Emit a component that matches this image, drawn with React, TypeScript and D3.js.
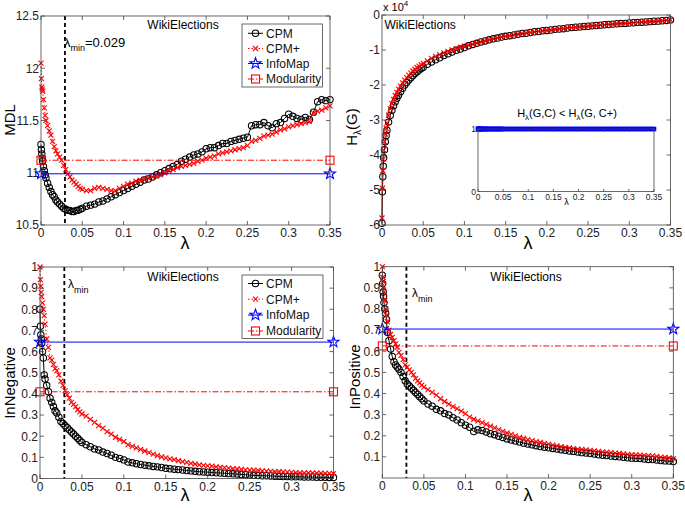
import React from "react";
import * as d3 from "d3";

// ---------- data ----------
const lambda = [0, 0.0005, 0.001, 0.0015, 0.002, 0.003, 0.004, 0.005, 0.006, 0.008, 0.01, 0.012, 0.014, 0.016, 0.018, 0.02, 0.0225, 0.025, 0.0275, 0.03, 0.0325, 0.035, 0.0375, 0.04, 0.0425, 0.045, 0.0475, 0.05,
  0.055, 0.06, 0.065, 0.07, 0.075, 0.08, 0.085, 0.09, 0.095, 0.1,
  0.105, 0.11, 0.115, 0.12, 0.125, 0.13, 0.135, 0.14, 0.145, 0.15,
  0.155, 0.16, 0.165, 0.17, 0.175, 0.18, 0.185, 0.19, 0.195, 0.2,
  0.205, 0.21, 0.215, 0.22, 0.225, 0.23, 0.235, 0.24, 0.245, 0.25,
  0.255, 0.26, 0.265, 0.27, 0.275, 0.28, 0.285, 0.29, 0.295, 0.3,
  0.305, 0.31, 0.315, 0.32, 0.325, 0.33, 0.335, 0.34, 0.345, 0.35];

const mdlCPM = [11.27, 11.22, 11.18, 11.14, 11.11, 11.06, 11.02, 10.98, 10.95, 10.90, 10.86, 10.82, 10.79, 10.77, 10.74, 10.72, 10.70, 10.68, 10.66, 10.65, 10.64, 10.64, 10.63, 10.63, 10.64, 10.64, 10.65, 10.66,
  10.68, 10.69, 10.70, 10.72, 10.73, 10.75, 10.77, 10.79, 10.81, 10.83,
  10.85, 10.87, 10.89, 10.91, 10.93, 10.94, 10.96, 10.98, 11.00, 11.02,
  11.04, 11.06, 11.08, 11.11, 11.13, 11.15, 11.17, 11.18, 11.20, 11.23,
  11.24, 11.24, 11.26, 11.28, 11.28, 11.30, 11.31, 11.32, 11.33, 11.34,
  11.45, 11.46, 11.46, 11.48, 11.45, 11.43, 11.47, 11.48, 11.52, 11.56,
  11.54, 11.52, 11.51, 11.53, 11.51, 11.58, 11.68, 11.70, 11.69, 11.70];
const mdlCPMp = [12.05, 11.90, 11.82, 11.80, 11.78, 11.70, 11.62, 11.55, 11.50, 11.45, 11.40, 11.36, 11.30, 11.25, 11.21, 11.18, 11.15, 11.12, 11.07, 11.03, 10.99, 10.96, 10.93, 10.91, 10.89, 10.87, 10.85, 10.84,
  10.83, 10.83, 10.85, 10.86, 10.85, 10.84, 10.83, 10.83, 10.85, 10.87,
  10.89, 10.90, 10.92, 10.93, 10.94, 10.95, 10.96, 10.97, 10.98, 11.00,
  11.02, 11.03, 11.05, 11.06, 11.07, 11.08, 11.09, 11.11, 11.12, 11.14,
  11.15, 11.16, 11.18, 11.19, 11.20, 11.21, 11.22, 11.23, 11.24, 11.26,
  11.30, 11.31, 11.33, 11.35, 11.36, 11.37, 11.39, 11.41, 11.42, 11.44,
  11.45, 11.46, 11.47, 11.48, 11.49, 11.57, 11.59, 11.60, 11.62, 11.64];
const mdlInfoMap = [10.99, 10.99];
const mdlModularity = [11.12, 11.12];

const hCPM = [-5.95, -5.05, -4.62, -4.32, -4.08, -3.85, -3.62, -3.44, -3.29, -3.06, -2.87, -2.72, -2.59, -2.48, -2.38, -2.29, -2.19, -2.09, -2.00, -1.93, -1.86, -1.79, -1.73, -1.67, -1.62, -1.57, -1.53, -1.49,
  -1.41, -1.34, -1.28, -1.22, -1.16, -1.11, -1.06, -1.01, -0.97, -0.93,
  -0.88, -0.84, -0.81, -0.77, -0.74, -0.71, -0.68, -0.66, -0.63, -0.61,
  -0.59, -0.57, -0.55, -0.53, -0.52, -0.50, -0.48, -0.47, -0.45, -0.44,
  -0.43, -0.41, -0.40, -0.39, -0.37, -0.36, -0.35, -0.34, -0.33, -0.32,
  -0.31, -0.30, -0.29, -0.28, -0.27, -0.26, -0.25, -0.245, -0.24, -0.23,
  -0.22, -0.21, -0.205, -0.20, -0.19, -0.18, -0.175, -0.165, -0.155, -0.14];
const hCPMp = [-5.80, -4.95, -4.45, -4.12, -3.86, -3.62, -3.40, -3.23, -3.08, -2.86, -2.68, -2.53, -2.41, -2.30, -2.21, -2.12, -2.03, -1.94, -1.86, -1.79, -1.72, -1.66, -1.60, -1.55, -1.50, -1.46, -1.42, -1.38,
  -1.31, -1.24, -1.18, -1.13, -1.08, -1.04, -1.00, -0.96, -0.92, -0.89,
  -0.86, -0.83, -0.80, -0.77, -0.74, -0.71, -0.68, -0.66, -0.63, -0.61,
  -0.59, -0.57, -0.55, -0.53, -0.52, -0.50, -0.48, -0.47, -0.45, -0.44,
  -0.43, -0.41, -0.40, -0.39, -0.37, -0.36, -0.35, -0.34, -0.33, -0.32,
  -0.31, -0.30, -0.29, -0.28, -0.27, -0.26, -0.25, -0.245, -0.24, -0.23,
  -0.22, -0.21, -0.205, -0.20, -0.19, -0.18, -0.175, -0.165, -0.155, -0.14];
const insetCompare = [1, 1, 1, 1, 1, 1, 1, 1, 1, 1, 1, 1, 1, 1, 1, 1, 1, 1, 1, 1, 1, 1, 1, 1, 1, 1, 1, 1,
  1, 1, 1, 1, 1, 1, 1, 1, 1, 1,
  1, 1, 1, 1, 1, 1, 1, 1, 1, 1,
  1, 1, 1, 1, 1, 1, 1, 1, 1, 1,
  1, 1, 1, 1, 1, 1, 1, 1, 1, 1,
  1, 1, 1, 1, 1, 1, 1, 1, 1, 1,
  1, 1, 1, 1, 1, 1, 1, 1, 1, 1];

const negCPM = [0.80, 0.72, 0.68, 0.66, 0.64, 0.60, 0.57, 0.49, 0.47, 0.44, 0.41, 0.38, 0.36, 0.34, 0.32, 0.31, 0.29, 0.27, 0.26, 0.25, 0.24, 0.23, 0.22, 0.21, 0.20, 0.19, 0.18, 0.17,
  0.16, 0.15, 0.14, 0.135, 0.125, 0.118, 0.11, 0.10, 0.095, 0.088,
  0.078, 0.074, 0.070, 0.066, 0.063, 0.060, 0.057, 0.055, 0.052, 0.048,
  0.046, 0.044, 0.042, 0.040, 0.038, 0.036, 0.034, 0.032, 0.031, 0.030,
  0.028, 0.027, 0.026, 0.025, 0.023, 0.022, 0.021, 0.019, 0.018, 0.016,
  0.015, 0.014, 0.013, 0.013, 0.012, 0.011, 0.010, 0.009, 0.009, 0.008,
  0.008, 0.008, 0.007, 0.007, 0.007, 0.006, 0.006, 0.006, 0.005, 0.005];
const negCPMp = [1.0, 0.94, 0.91, 0.88, 0.86, 0.83, 0.80, 0.77, 0.73, 0.66, 0.62, 0.57, 0.56, 0.54, 0.52, 0.51, 0.49, 0.46, 0.44, 0.415, 0.395, 0.38, 0.36, 0.35, 0.34, 0.325, 0.315, 0.305,
  0.295, 0.28, 0.265, 0.25, 0.238, 0.222, 0.21, 0.195, 0.185, 0.175,
  0.160, 0.152, 0.145, 0.138, 0.130, 0.122, 0.115, 0.108, 0.102, 0.097,
  0.093, 0.089, 0.085, 0.080, 0.076, 0.072, 0.068, 0.064, 0.062, 0.060,
  0.058, 0.055, 0.053, 0.051, 0.049, 0.047, 0.045, 0.043, 0.041, 0.040,
  0.039, 0.038, 0.036, 0.035, 0.034, 0.033, 0.032, 0.031, 0.030, 0.029,
  0.028, 0.027, 0.027, 0.026, 0.026, 0.025, 0.025, 0.024, 0.024, 0.023];
const negInfoMap = [0.645, 0.645];
const negModularity = [0.41, 0.41];

const posCPM = [0.96, 0.92, 0.88, 0.86, 0.83, 0.80, 0.78, 0.75, 0.69, 0.65, 0.61, 0.575, 0.55, 0.535, 0.525, 0.515, 0.50, 0.48, 0.46, 0.445, 0.435, 0.425, 0.415, 0.405, 0.395, 0.385, 0.375, 0.365,
  0.350, 0.340, 0.325, 0.318, 0.305, 0.298, 0.285, 0.275, 0.262, 0.250,
  0.240, 0.220, 0.228, 0.225, 0.218, 0.210, 0.205, 0.198, 0.192, 0.185,
  0.180, 0.175, 0.170, 0.165, 0.161, 0.157, 0.153, 0.149, 0.146, 0.143,
  0.140, 0.137, 0.134, 0.131, 0.128, 0.126, 0.123, 0.120, 0.118, 0.116,
  0.113, 0.110, 0.108, 0.106, 0.104, 0.102, 0.100, 0.098, 0.096, 0.094,
  0.093, 0.092, 0.090, 0.088, 0.087, 0.085, 0.083, 0.081, 0.080, 0.078];
const posCPMp = [1.0, 0.95, 0.93, 0.905, 0.88, 0.84, 0.80, 0.77, 0.74, 0.70, 0.68, 0.665, 0.65, 0.635, 0.62, 0.595, 0.58, 0.56, 0.535, 0.525, 0.512, 0.50, 0.488, 0.472, 0.46, 0.45, 0.44, 0.43,
  0.418, 0.405, 0.392, 0.375, 0.362, 0.350, 0.338, 0.328, 0.316, 0.305,
  0.288, 0.278, 0.270, 0.262, 0.254, 0.245, 0.237, 0.229, 0.221, 0.213,
  0.206, 0.199, 0.192, 0.187, 0.182, 0.177, 0.172, 0.168, 0.164, 0.160,
  0.156, 0.152, 0.148, 0.145, 0.142, 0.139, 0.137, 0.135, 0.133, 0.131,
  0.128, 0.126, 0.124, 0.122, 0.120, 0.118, 0.116, 0.114, 0.112, 0.110,
  0.109, 0.108, 0.107, 0.106, 0.105, 0.102, 0.099, 0.097, 0.095, 0.092];
const posInfoMap = [0.705, 0.705];
const posModularity = [0.625, 0.625];

const endpoints = [0, 0.35];
const lambdaMin = 0.029;

const xTicks = [0, 0.05, 0.1, 0.15, 0.2, 0.25, 0.3, 0.35];
const mdlTicks = [10.5, 11, 11.5, 12, 12.5];
const hTicks = [0, -1, -2, -3, -4, -5, -6];
const negTicks = [0, 0.1, 0.2, 0.3, 0.4, 0.5, 0.6, 0.7, 0.8, 0.9, 1];
const posTicks = [0.1, 0.2, 0.3, 0.4, 0.5, 0.6, 0.7, 0.8, 0.9, 1];
const insetYTicks = [0, 1];
const legendNames = ["CPM", "CPM+", "InfoMap", "Modularity"];

// ---------- styling ----------
const FONT = "'Liberation Sans', Arial, Helvetica, sans-serif";
const AX = "#444";
const RED = "#ff0000";
const BLUE = "#0000ff";

type Box = { l: number; r: number; t: number; b: number };

function starPath(cx: number, cy: number, R: number) {
  const pts: [number, number][] = [];
  for (let i = 0; i < 10; i++) {
    const a = (-90 + i * 36) * Math.PI / 180;
    const rr = i % 2 === 0 ? R : R * 0.4;
    pts.push([cx + rr * Math.cos(a), cy + rr * Math.sin(a)]);
  }
  return "M" + pts.map(p => p[0].toFixed(2) + "," + p[1].toFixed(2)).join("L") + "Z";
}

function Marker({ kind, x, y }: { kind: string; x: number; y: number }) {
  if (kind === "circle") return <circle cx={x} cy={y} r={3.2} fill="none" stroke="#000" strokeWidth={1.05} />;
  if (kind === "x") {
    const s = 2.5;
    return <path d={`M${x - s},${y - s}L${x + s},${y + s}M${x - s},${y + s}L${x + s},${y - s}`} stroke={RED} strokeWidth={1.1} />;
  }
  if (kind === "star") return <path d={starPath(x, y, 5.8)} fill="none" stroke={BLUE} strokeWidth={1.1} />;
  if (kind === "square") return <rect x={x - 4} y={y - 4} width={8} height={8} fill="none" stroke={RED} strokeWidth={1.1} />;
  if (kind === "bsquare") return <rect x={x - 2} y={y - 2} width={4} height={4} fill={BLUE} stroke={BLUE} strokeWidth={0.6} />;
  return null;
}

type Series = { xs: number[]; ys: number[]; color: string; dash?: string; marker: string; width?: number };

const SERIES_STYLE: { color: string; dash?: string; marker: string }[] = [
  { color: "#000", marker: "circle" },
  { color: RED, dash: "1.5,2", marker: "x" },
  { color: BLUE, marker: "star" },
  { color: RED, dash: "6,2,1.5,2", marker: "square" },
];

function Axes({ box, yDomain, yTicks, xt, fs, tl, children }: { box: Box; yDomain: [number, number]; yTicks: number[]; xt: number[]; fs: number; tl: number; children: (x: d3.ScaleLinear<number, number>, y: d3.ScaleLinear<number, number>) => React.ReactNode }) {
  const x = d3.scaleLinear().domain([0, 0.35]).range([box.l, box.r]);
  const y = d3.scaleLinear().domain(yDomain).range([box.b, box.t]);
  return (
    <g>
      <rect x={box.l} y={box.t} width={box.r - box.l} height={box.b - box.t} fill="#fff" stroke="none" />
      {children(x, y)}
      <rect x={box.l} y={box.t} width={box.r - box.l} height={box.b - box.t} fill="none" stroke={AX} strokeWidth={0.8} />
      {xt.map(v => (
        <g key={"xt" + v}>
          <line x1={x(v)} x2={x(v)} y1={box.b} y2={box.b - tl} stroke={AX} strokeWidth={0.8} />
          <line x1={x(v)} x2={x(v)} y1={box.t} y2={box.t + tl} stroke={AX} strokeWidth={0.8} />
          <text x={x(v)} y={box.b + fs * 1.02} textAnchor="middle" fontSize={fs} fill="#222">{String(v)}</text>
        </g>
      ))}
      {yTicks.map(v => (
        <g key={"yt" + v}>
          <line x1={box.l} x2={box.l + tl} y1={y(v)} y2={y(v)} stroke={AX} strokeWidth={0.8} />
          <line x1={box.r} x2={box.r - tl} y1={y(v)} y2={y(v)} stroke={AX} strokeWidth={0.8} />
          <text x={box.l - 2} y={y(v) + fs * 0.36} textAnchor="end" fontSize={fs} fill="#222">{String(v)}</text>
        </g>
      ))}
    </g>
  );
}

function drawSeries(x: d3.ScaleLinear<number, number>, y: d3.ScaleLinear<number, number>, list: Series[]) {
  return list.map((s, si) => {
    const pts: [number, number][] = s.xs.map((v, i) => [x(v), y(s.ys[i])]);
    const d = d3.line()(pts) || "";
    return (
      <g key={"s" + si}>
        <path d={d} fill="none" stroke={s.color} strokeWidth={s.width ?? 1} strokeDasharray={s.dash} />
        {pts.map((p, i) => <Marker key={i} kind={s.marker} x={p[0]} y={p[1]} />)}
      </g>
    );
  });
}

function mkSeries(xs: number[], ys: number[], idx: number): Series {
  const st = SERIES_STYLE[idx];
  return { xs, ys, color: st.color, dash: st.dash, marker: st.marker };
}

function Legend({ x0, y0, x1, y1, rows }: { x0: number; y0: number; x1: number; y1: number; rows: number[] }) {
  return (
    <g>
      <rect x={x0} y={y0} width={x1 - x0} height={y1 - y0} fill="#fff" stroke={AX} strokeWidth={0.8} />
      {legendNames.map((n, i) => {
        const st = SERIES_STYLE[i];
        const yy = rows[i];
        return (
          <g key={n}>
            <line x1={x0 + 6} x2={x0 + 21} y1={yy} y2={yy} stroke={st.color} strokeWidth={1} strokeDasharray={st.dash} />
            <Marker kind={st.marker} x={x0 + 13.5} y={yy} />
            <text x={x0 + 24} y={yy + 4.3} fontSize={12} fill="#111">{n}</text>
          </g>
        );
      })}
    </g>
  );
}

export default function App() {
  const fs = 12;
  const tl = 4;
  const boxTL: Box = { l: 41, r: 330, t: 16, b: 225 };
  const boxTR: Box = { l: 382, r: 670.5, t: 15, b: 225 };
  const boxBL: Box = { l: 40, r: 333.5, t: 267, b: 478.5 };
  const boxBR: Box = { l: 382.3, r: 673.3, t: 266.7, b: 478 };
  const boxIn: Box = { l: 478, r: 654, t: 129, b: 191.5 };

  const vline = (x: d3.ScaleLinear<number, number>, b: Box) => (
    <line x1={x(lambdaMin)} x2={x(lambdaMin)} y1={b.t} y2={b.b} stroke="#000" strokeWidth={1.8} strokeDasharray="4,3" />
  );

  return (
    <svg width={685} height={508} style={{ position: "absolute", left: 0, top: 0, background: "#fff" }} fontFamily={FONT}>
      <rect x={0} y={0} width={685} height={508} fill="#fff" />

      {/* Top-left: MDL */}
      <Axes box={boxTL} yDomain={[10.5, 12.5]} yTicks={mdlTicks} xt={xTicks} fs={fs} tl={tl}>
        {(x, y) => (
          <g>
            {vline(x, boxTL)}
            {drawSeries(x, y, [
              mkSeries(lambda, mdlCPM, 0),
              mkSeries(lambda, mdlCPMp, 1),
              mkSeries(endpoints, mdlInfoMap, 2),
              mkSeries(endpoints, mdlModularity, 3),
            ])}
            <text x={64} y={47} fontSize={13}>λ<tspan fontSize={9} dy={4}>min</tspan><tspan dy={-4} fontSize={13}>=0.029</tspan></text>
          </g>
        )}
      </Axes>
      <text x={183} y={28.5} fontSize={12} textAnchor="middle">WikiElections</text>
      <Legend x0={242} y0={24} x1={322.5} y1={87} rows={[33.3, 48.5, 63.5, 79]} />
      <text transform="translate(15,120) rotate(-90)" textAnchor="middle" fontSize={15}>MDL</text>
      <text x={185} y={249} textAnchor="middle" fontSize={18}>λ</text>

      {/* Top-right: H_lambda(G) */}
      <Axes box={boxTR} yDomain={[-6, 0]} yTicks={hTicks} xt={xTicks} fs={fs} tl={tl}>
        {(x, y) => (
          <g>
            {drawSeries(x, y, [
              mkSeries(lambda, hCPM, 0),
              mkSeries(lambda, hCPMp, 1),
            ])}
          </g>
        )}
      </Axes>
      <text x={384.5} y={28.5} fontSize={12}>WikiElections</text>
      <text x={383} y={11} fontSize={11}>x 10<tspan fontSize={8} dy={-5}>4</tspan></text>
      <text transform="translate(357,127) rotate(-90)" textAnchor="middle" fontSize={15}>H<tspan fontSize={10} dy={4}>λ</tspan><tspan dy={-4}>(G)</tspan></text>
      <text x={528} y={249} textAnchor="middle" fontSize={18}>λ</text>

      {/* Inset */}
      <Axes box={boxIn} yDomain={[0, 1]} yTicks={insetYTicks} xt={xTicks} fs={8.5} tl={2.5}>
        {(x, y) => (
          <g>
            {(() => {
              const pts: [number, number][] = lambda.map((v, i) => [x(v), y(insetCompare[i])]);
              return (
                <g>
                  <path d={d3.line()(pts) || ""} stroke={BLUE} strokeWidth={1.2} fill="none" />
                  {pts.map((p, i) => <Marker key={i} kind="bsquare" x={p[0]} y={p[1]} />)}
                </g>
              );
            })()}
          </g>
        )}
      </Axes>
      <text x={567} y={116.5} textAnchor="middle" fontSize={11}>H<tspan fontSize={8} dy={3}>λ</tspan><tspan dy={-3}>(G,C) &lt; H</tspan><tspan fontSize={8} dy={3}>λ</tspan><tspan dy={-3}>(G, C+)</tspan></text>
      <text x={566.5} y={205} textAnchor="middle" fontSize={9}>λ</text>

      {/* Bottom-left: InNegative */}
      <Axes box={boxBL} yDomain={[0, 1]} yTicks={negTicks} xt={xTicks} fs={fs} tl={tl}>
        {(x, y) => (
          <g>
            {vline(x, boxBL)}
            {drawSeries(x, y, [
              mkSeries(lambda, negCPM, 0),
              mkSeries(lambda, negCPMp, 1),
              mkSeries(endpoints, negInfoMap, 2),
              mkSeries(endpoints, negModularity, 3),
            ])}
            <text x={68} y={288} fontSize={12}>λ<tspan fontSize={9} dy={5}>min</tspan></text>
          </g>
        )}
      </Axes>
      <text x={183} y={280.5} fontSize={12} textAnchor="middle">WikiElections</text>
      <Legend x0={242} y0={275} x1={323} y1={338.5} rows={[283.5, 299.2, 315, 331]} />
      <text transform="translate(15,383) rotate(-90)" textAnchor="middle" fontSize={15}>InNegative</text>
      <text x={185} y={501} textAnchor="middle" fontSize={18}>λ</text>

      {/* Bottom-right: InPositive */}
      <Axes box={boxBR} yDomain={[0, 1]} yTicks={posTicks} xt={xTicks} fs={fs} tl={tl}>
        {(x, y) => (
          <g>
            {vline(x, boxBR)}
            {drawSeries(x, y, [
              mkSeries(lambda, posCPM, 0),
              mkSeries(lambda, posCPMp, 1),
              mkSeries(endpoints, posInfoMap, 2),
              mkSeries(endpoints, posModularity, 3),
            ])}
            <text x={412} y={297} fontSize={12}>λ<tspan fontSize={9} dy={5}>min</tspan></text>
          </g>
        )}
      </Axes>
      <text x={526} y={280.5} fontSize={12} textAnchor="middle">WikiElections</text>
      <text transform="translate(360,377) rotate(-90)" textAnchor="middle" fontSize={15}>InPositive</text>
      <text x={528} y={501} textAnchor="middle" fontSize={18}>λ</text>
    </svg>
  );
}
